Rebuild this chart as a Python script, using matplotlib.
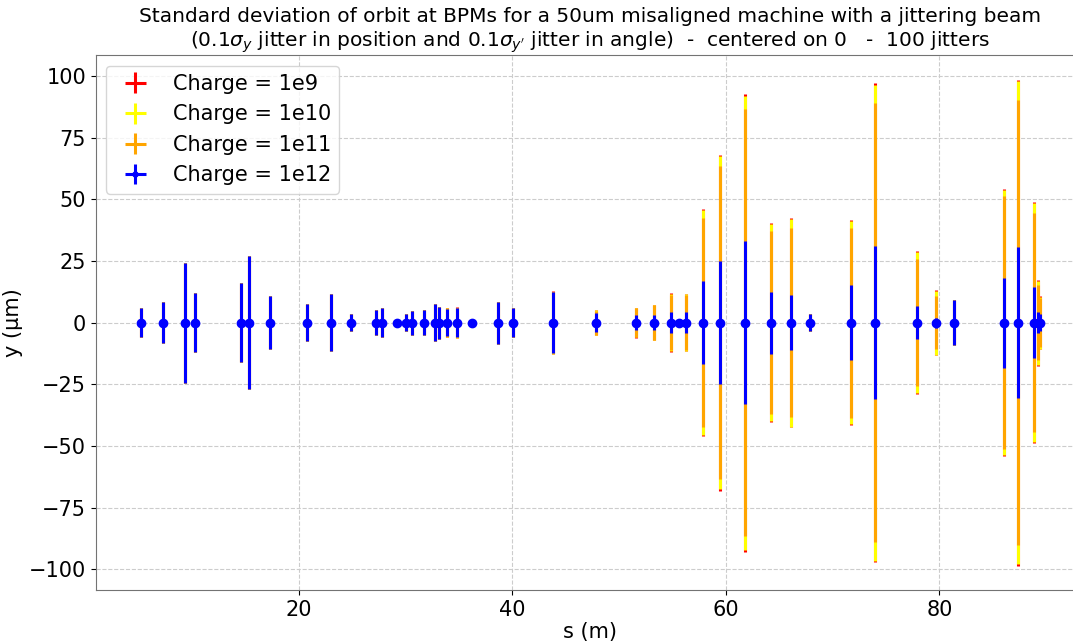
import numpy as np
import matplotlib
matplotlib.use("Agg")
import matplotlib.pyplot as plt

# BPM positions (m)
s = [5.2, 7.3, 9.3, 10.25, 14.6, 15.3, 17.3, 20.75, 23.0, 24.85, 27.25, 27.8,
     29.2, 30.05, 30.6, 31.7, 32.75, 33.1, 33.85, 34.85, 36.25, 38.7, 40.1,
     43.85, 47.8, 51.6, 53.3, 54.9, 55.6, 56.3, 57.85, 59.4, 61.8, 64.25,
     66.05, 67.85, 71.7, 74.0, 77.9, 79.7, 81.35, 86.0, 87.4, 88.85, 89.2, 89.4]

# std of orbit (um) for each charge
std_1e12 = [5.8, 8.4, 24.3, 11.9, 16.1, 27.1, 10.8, 7.6, 11.7, 3.4, 5.2, 5.8,
            0.3, 3.4, 4.9, 5.0, 7.6, 6.5, 5.5, 5.8, 0.3, 8.5, 5.8,
            12.3, 4.0, 2.9, 2.9, 4.2, 0.3, 4.3, 16.8, 24.8, 33.0, 12.6,
            11.2, 3.5, 15.3, 31.0, 6.6, 2.0, 9.2, 18.2, 30.7, 14.3, 4.4, 3.5]
std_1e11 = [5.8, 8.4, 24.3, 11.9, 16.1, 27.1, 10.8, 7.6, 11.7, 3.4, 5.2, 5.8,
            0.3, 3.4, 4.9, 5.0, 7.6, 6.5, 5.8, 6.0, 0.3, 8.5, 5.8,
            12.5, 4.9, 5.8, 7.0, 11.3, 0.3, 11.2, 42.5, 63.4, 86.4, 37.0,
            38.4, 3.5, 38.5, 89.1, 25.8, 10.6, 9.2, 51.4, 90.3, 44.3, 15.3, 9.8]
std_1e10 = [5.8, 8.4, 24.3, 11.9, 16.1, 27.1, 10.8, 7.6, 11.7, 3.4, 5.2, 5.8,
            0.3, 3.4, 4.9, 5.0, 7.6, 6.5, 5.9, 6.1, 0.3, 8.5, 5.8,
            12.6, 5.1, 6.0, 7.1, 11.6, 0.3, 11.5, 45.5, 67.6, 92.0, 40.0,
            42.1, 3.5, 41.2, 96.4, 28.6, 13.0, 9.2, 53.7, 98.0, 48.4, 17.0, 10.5]
std_1e9 = [5.8, 8.4, 24.3, 11.9, 16.1, 27.1, 10.8, 7.6, 11.7, 3.4, 5.2, 5.8,
           0.3, 3.4, 4.9, 5.0, 7.6, 6.5, 6.0, 6.2, 0.3, 8.5, 5.8,
           12.7, 5.2, 6.1, 7.2, 11.8, 0.3, 11.7, 45.9, 68.1, 92.8, 40.4,
           42.5, 3.5, 41.6, 96.9, 29.0, 13.3, 9.2, 54.1, 98.5, 48.8, 17.4, 10.7]

charges = ['1e9', '1e10', '1e11', '1e12']
colors = ['red', 'yellow', 'orange', 'blue']
stds = [std_1e9, std_1e10, std_1e11, std_1e12]

fig = plt.figure(figsize=(10.73, 6.42), dpi=100)
ax = fig.add_axes([0.0893, 0.081, 0.9217, 0.833])

zeros = np.zeros(len(s))
for q, c, sd in zip(charges, colors, stds):
    fmt = 'o' if q == '1e12' else 'none'
    ax.errorbar(s, zeros, yerr=sd, xerr=zeros, fmt=fmt, color=c, ecolor=c,
                elinewidth=2.2, markersize=6, label='Charge = ' + q)

ax.set_title("Standard deviation of orbit at BPMs for a 50um misaligned machine with a jittering beam\n"
             r"(0.1$\sigma_y$ jitter in position and 0.1$\sigma_{y'}$ jitter in angle)  -  centered on 0   -  100 jitters",
             fontsize=14.5)
ax.set_xlabel('s (m)', fontsize=15, labelpad=2)
ax.set_ylabel('y (μm)', fontsize=15)
ax.tick_params(labelsize=15)
ax.grid(True, linestyle='--', color='#cccccc')
ax.set_axisbelow(True)
for sp in ax.spines.values():
    sp.set_color('0.45')
ax.legend(loc='upper left', fontsize=15, markerscale=0.6)

fig.savefig('out.png', dpi=100)
